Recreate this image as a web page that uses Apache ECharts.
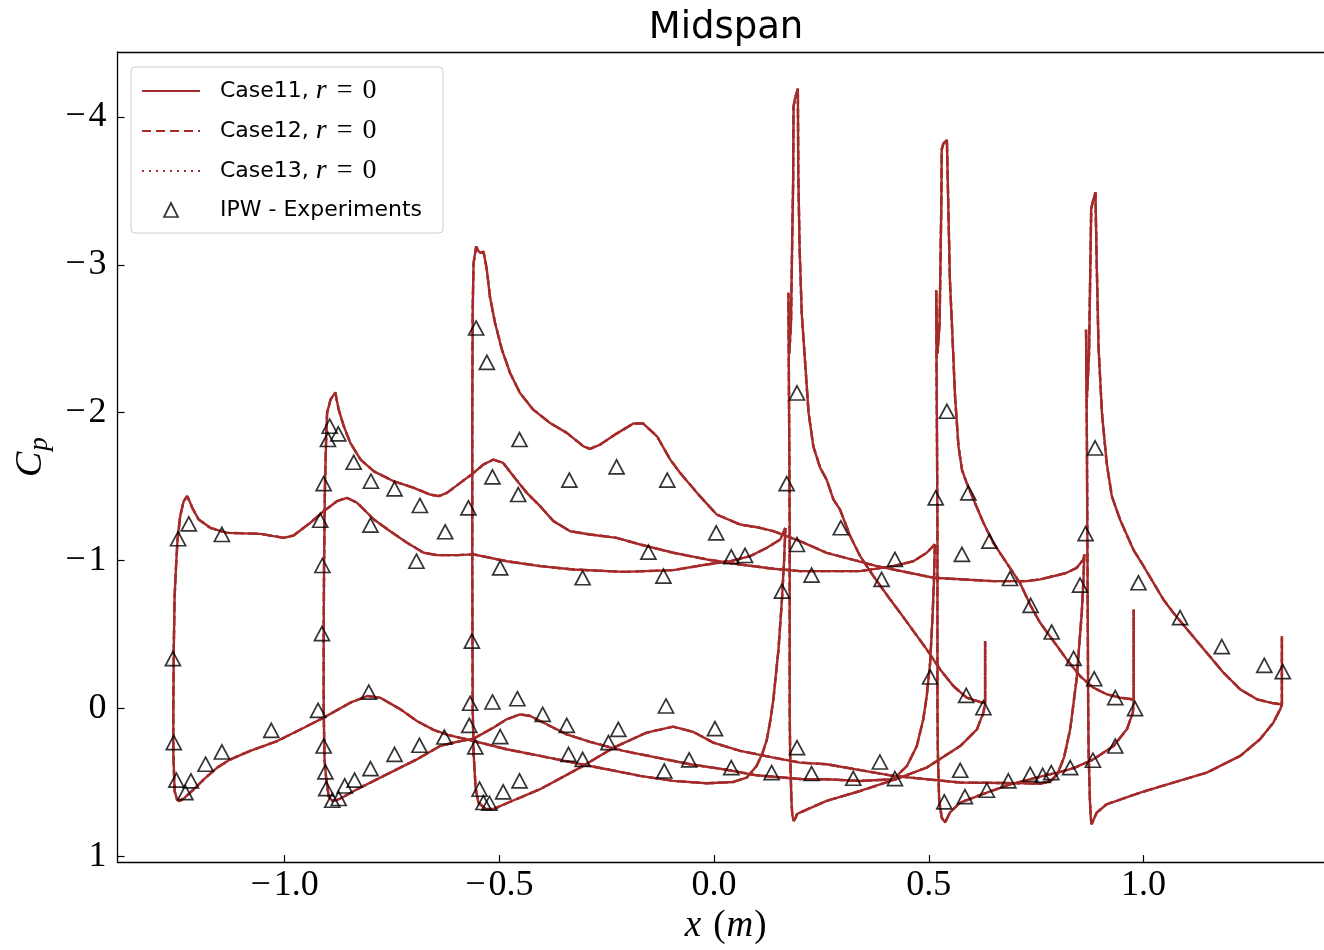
<!DOCTYPE html>
<html><head><meta charset="utf-8">
<script src="https://cdn.jsdelivr.net/npm/echarts@6/dist/echarts.min.js"></script>
<style>html,body{margin:0;padding:0;background:#fff}#chart{width:1324px;height:950px}</style>
</head><body><div id="chart"></div>
<script>
// ---- Data: [x (m), Cp] pairs ----
const wing1Upper = [[-1.250,0.620],[-1.256,0.560],[-1.259,0.300],[-1.259,0.000],[-1.258,-0.400],[-1.256,-0.760],[-1.252,-1.000],[-1.249,-1.150],[-1.243,-1.300],[-1.235,-1.400],[-1.227,-1.435],[-1.221,-1.400],[-1.215,-1.356],[-1.200,-1.277],[-1.173,-1.221],[-1.134,-1.187],[-1.056,-1.180],[-1.002,-1.153],[-0.979,-1.169],[-0.940,-1.255],[-0.909,-1.333],[-0.878,-1.401],[-0.855,-1.424],[-0.831,-1.390],[-0.792,-1.277],[-0.754,-1.198],[-0.715,-1.120],[-0.676,-1.052],[-0.645,-1.036],[-0.598,-1.036],[-0.560,-1.041],[-0.483,-0.995],[-0.405,-0.962],[-0.328,-0.939],[-0.211,-0.923],[-0.095,-0.935],[-0.017,-0.973],[0.037,-0.995],[0.084,-1.029],[0.123,-1.086],[0.154,-1.142],[0.166,-1.220]];
const wing1Lower = [[-1.250,0.620],[-1.244,0.627],[-1.235,0.610],[-1.211,0.547],[-1.188,0.480],[-1.157,0.401],[-1.126,0.345],[-1.080,0.288],[-1.017,0.221],[-0.955,0.131],[-0.909,0.063],[-0.847,-0.038],[-0.808,-0.083],[-0.777,-0.072],[-0.730,0.007],[-0.692,0.086],[-0.653,0.146],[-0.620,0.180],[-0.560,0.221],[-0.483,0.277],[-0.405,0.322],[-0.328,0.367],[-0.250,0.412],[-0.172,0.457],[-0.095,0.491],[-0.017,0.507],[0.045,0.498],[0.076,0.468],[0.099,0.390],[0.113,0.300],[0.123,0.210],[0.131,0.080],[0.138,-0.061],[0.150,-0.400],[0.158,-0.736],[0.163,-1.000],[0.166,-1.220]];

const wing2Upper = [[-0.897,0.600],[-0.903,0.480],[-0.907,0.345],[-0.909,0.000],[-0.909,-0.500],[-0.908,-1.000],[-0.906,-1.500],[-0.903,-1.850],[-0.901,-2.000],[-0.893,-2.088],[-0.882,-2.137],[-0.874,-2.020],[-0.862,-1.907],[-0.847,-1.795],[-0.823,-1.682],[-0.792,-1.603],[-0.746,-1.536],[-0.699,-1.491],[-0.661,-1.446],[-0.641,-1.435],[-0.622,-1.457],[-0.591,-1.525],[-0.560,-1.592],[-0.537,-1.649],[-0.514,-1.682],[-0.491,-1.660],[-0.467,-1.570],[-0.436,-1.457],[-0.405,-1.367],[-0.374,-1.266],[-0.335,-1.198],[-0.289,-1.176],[-0.227,-1.153],[-0.172,-1.108],[-0.095,-1.052],[-0.017,-1.007],[0.061,-0.973],[0.138,-0.944],[0.200,-0.928],[0.340,-0.928],[0.417,-0.962],[0.464,-0.995],[0.495,-1.052],[0.511,-1.097],[0.514,-1.110]];
const wing2Lower = [[-0.897,0.600],[-0.889,0.624],[-0.878,0.620],[-0.870,0.610],[-0.831,0.547],[-0.769,0.457],[-0.692,0.345],[-0.638,0.255],[-0.598,0.226],[-0.560,0.205],[-0.514,0.131],[-0.483,0.074],[-0.452,0.041],[-0.428,0.052],[-0.390,0.108],[-0.343,0.176],[-0.289,0.227],[-0.211,0.288],[-0.133,0.333],[-0.056,0.378],[0.022,0.412],[0.099,0.453],[0.200,0.478],[0.262,0.480],[0.340,0.491],[0.417,0.480],[0.449,0.390],[0.472,0.255],[0.487,0.074],[0.495,-0.083],[0.503,-0.309],[0.509,-0.647],[0.512,-0.872],[0.514,-1.110]];

const wing3Upper = [[-0.556,0.500],[-0.560,0.300],[-0.562,0.000],[-0.563,-1.000],[-0.563,-2.000],[-0.562,-2.700],[-0.560,-3.011],[-0.554,-3.124],[-0.548,-3.090],[-0.543,-3.079],[-0.537,-3.090],[-0.529,-2.966],[-0.522,-2.786],[-0.510,-2.606],[-0.494,-2.426],[-0.475,-2.268],[-0.452,-2.133],[-0.421,-2.020],[-0.382,-1.930],[-0.343,-1.863],[-0.304,-1.772],[-0.289,-1.755],[-0.265,-1.784],[-0.227,-1.858],[-0.188,-1.926],[-0.165,-1.926],[-0.133,-1.840],[-0.102,-1.682],[-0.079,-1.592],[-0.033,-1.435],[0.006,-1.311],[0.061,-1.243],[0.107,-1.221],[0.138,-1.198],[0.200,-1.131],[0.262,-1.052],[0.379,-0.962],[0.511,-0.883],[0.650,-0.860],[0.728,-0.860],[0.759,-0.872],[0.806,-0.905],[0.821,-0.917],[0.844,-0.950],[0.860,-1.007],[0.862,-1.040]];
const wing3Lower = [[-0.556,0.500],[-0.556,0.525],[-0.549,0.637],[-0.533,0.678],[-0.514,0.682],[-0.483,0.642],[-0.405,0.547],[-0.312,0.401],[-0.234,0.266],[-0.157,0.164],[-0.095,0.124],[-0.048,0.160],[-0.002,0.232],[0.061,0.288],[0.138,0.333],[0.200,0.367],[0.262,0.378],[0.417,0.457],[0.573,0.502],[0.728,0.507],[0.759,0.510],[0.785,0.490],[0.800,0.440],[0.815,0.330],[0.829,0.142],[0.844,-0.196],[0.856,-0.646],[0.860,-0.872],[0.862,-1.040]];

const flap1Upper = [[0.180,0.620],[0.177,0.300],[0.176,0.000],[0.176,-0.600],[0.176,-1.200],[0.175,-1.800],[0.174,-2.300],[0.173,-2.810],[0.175,-2.400],[0.179,-2.600],[0.182,-3.200],[0.184,-3.550],[0.185,-4.070],[0.188,-4.120],[0.192,-4.180],[0.195,-4.190],[0.196,-3.620],[0.199,-3.124],[0.204,-2.674],[0.212,-2.336],[0.220,-1.998],[0.231,-1.772],[0.247,-1.626],[0.262,-1.547],[0.278,-1.412],[0.293,-1.345],[0.317,-1.164],[0.340,-1.029],[0.371,-0.894],[0.410,-0.736],[0.433,-0.647],[0.495,-0.399],[0.526,-0.264],[0.557,-0.151],[0.588,-0.072],[0.619,-0.043],[0.631,-0.035],[0.631,-0.455],[0.631,-0.035]];
const flap1Lower = [[0.180,0.620],[0.182,0.720],[0.185,0.761],[0.190,0.740],[0.193,0.715],[0.200,0.705],[0.262,0.626],[0.340,0.559],[0.417,0.486],[0.495,0.401],[0.573,0.255],[0.612,0.142],[0.627,0.029],[0.631,-0.035]];

const flap2Upper = [[0.524,0.620],[0.521,0.300],[0.520,0.000],[0.520,-0.600],[0.520,-1.200],[0.519,-1.800],[0.518,-2.300],[0.517,-2.830],[0.520,-2.400],[0.525,-2.600],[0.527,-3.000],[0.529,-3.400],[0.530,-3.780],[0.534,-3.820],[0.538,-3.845],[0.542,-3.845],[0.546,-3.300],[0.549,-2.900],[0.556,-2.448],[0.561,-2.110],[0.569,-1.772],[0.577,-1.615],[0.588,-1.525],[0.604,-1.412],[0.627,-1.255],[0.650,-1.120],[0.681,-0.984],[0.712,-0.849],[0.736,-0.700],[0.759,-0.579],[0.790,-0.455],[0.821,-0.331],[0.852,-0.218],[0.883,-0.140],[0.914,-0.095],[0.945,-0.072],[0.977,-0.060],[0.977,-0.669],[0.977,-0.060]];
const flap2Lower = [[0.524,0.620],[0.530,0.740],[0.538,0.772],[0.544,0.735],[0.549,0.705],[0.573,0.637],[0.635,0.570],[0.689,0.514],[0.767,0.457],[0.806,0.430],[0.837,0.405],[0.883,0.345],[0.930,0.255],[0.961,0.142],[0.975,0.029],[0.977,-0.060]];

const flap3Upper = [[0.875,0.620],[0.872,0.300],[0.871,0.000],[0.870,-0.600],[0.869,-1.200],[0.868,-1.800],[0.867,-2.200],[0.866,-2.560],[0.868,-2.100],[0.873,-2.400],[0.876,-3.000],[0.878,-3.380],[0.880,-3.450],[0.883,-3.440],[0.885,-3.480],[0.888,-3.490],[0.889,-3.300],[0.891,-2.989],[0.895,-2.448],[0.903,-1.998],[0.914,-1.660],[0.926,-1.435],[0.945,-1.277],[0.976,-1.074],[1.000,-0.961],[1.023,-0.849],[1.046,-0.736],[1.069,-0.647],[1.108,-0.511],[1.147,-0.376],[1.186,-0.241],[1.225,-0.128],[1.264,-0.061],[1.302,-0.034],[1.322,-0.027],[1.322,-0.489],[1.322,-0.027]];
const flap3Lower = [[0.875,0.620],[0.877,0.740],[0.879,0.784],[0.884,0.750],[0.891,0.705],[0.914,0.649],[0.992,0.570],[1.069,0.502],[1.147,0.435],[1.225,0.322],[1.271,0.209],[1.302,0.097],[1.318,0.007],[1.322,-0.027]];

const expPoints = [[-1.260,-0.336],[-1.258,0.232],[-1.252,0.486],[-1.231,0.570],[-1.218,0.491],[-1.184,0.378],[-1.146,0.295],[-1.031,0.149],[-0.804,-0.110],[-1.248,-1.147],[-1.223,-1.248],[-1.146,-1.176],
[-0.912,-0.966],[-0.917,-1.272],[-0.909,-1.520],[-0.899,-1.818],[-0.895,-1.908],[-0.875,-1.856],[-0.839,-1.664],[-0.799,-1.536],[-0.744,-1.484],[-0.685,-1.372],[-0.626,-1.194],[-0.800,-1.239],[-0.693,-0.995],[-0.913,-0.505],[-0.922,0.014],[-0.909,0.255],[-0.905,0.430],[-0.903,0.543],[-0.889,0.622],[-0.874,0.610],[-0.860,0.525],[-0.837,0.486],[-0.800,0.408],[-0.744,0.311],[-0.686,0.250],[-0.628,0.194],
[-0.554,-2.572],[-0.529,-2.340],[-0.453,-1.818],[-0.516,-1.565],[-0.456,-1.446],[-0.572,-1.356],[-0.337,-1.543],[-0.227,-1.633],[-0.109,-1.543],[-0.498,-0.950],[-0.306,-0.883],[-0.118,-0.894],[-0.153,-1.056],[0.005,-1.187],[0.040,-1.025],[0.072,-1.034],
[-0.564,-0.455],[-0.568,-0.034],[-0.570,0.115],[-0.556,0.261],[-0.516,-0.043],[-0.458,-0.065],[-0.498,0.191],[-0.399,0.041],[-0.343,0.115],[-0.339,0.311],[-0.306,0.345],[-0.246,0.232],[-0.223,0.142],[-0.112,-0.016],[-0.116,0.424],[-0.058,0.349],[0.002,0.137],[0.040,0.401],[0.134,0.435],[0.193,0.266],[-0.546,0.547],[-0.537,0.637],[-0.523,0.642],[-0.491,0.565],[-0.453,0.491],
[0.169,-1.520],[0.193,-2.133],[0.193,-1.108],[0.158,-0.793],[0.295,-1.221],[0.227,-0.901],[0.421,-1.007],[0.390,-0.872],[0.503,-0.212],[0.587,-0.088],[0.627,-0.004],[0.227,0.441],[0.324,0.473],[0.386,0.363],[0.421,0.475],
[0.542,-2.009],[0.516,-1.423],[0.592,-1.457],[0.577,-1.041],[0.641,-1.131],[0.689,-0.878],[0.737,-0.696],[0.786,-0.516],[0.837,-0.338],[0.885,-0.200],[0.934,-0.072],[0.980,0.002],[0.573,0.419],[0.536,0.633],[0.584,0.597],[0.635,0.554],[0.685,0.491],[0.736,0.446],[0.765,0.453],[0.785,0.435],[0.829,0.401],[0.882,0.351],[0.934,0.255],
[0.887,-1.761],[0.865,-1.182],[0.852,-0.833],[0.988,-0.849],[1.085,-0.613],[1.182,-0.417],[1.281,-0.291],[1.324,-0.248]];

const xTicks = [-1.0, -0.5, 0.0, 0.5, 1.0];
const yTicks = [-4, -3, -2, -1, 0, 1];
const caseNames = ['Case11, r = 0', 'Case12, r = 0', 'Case13, r = 0'];
const expName = 'IPW - Experiments';
const titleText = 'Midspan';

// ---- Build ----
function loop(upper, lower) { return upper.slice().reverse().concat(lower.slice(1)); }
const elements = [
  loop(wing1Upper, wing1Lower), loop(wing2Upper, wing2Lower), loop(wing3Upper, wing3Lower),
  loop(flap1Upper, flap1Lower), loop(flap2Upper, flap2Lower), loop(flap3Upper, flap3Lower)
];
const lineColor = '#a52a2a';
const lineTypes = ['solid', [9, 5], [2, 5]];
const triPath = 'path://M0,0L1,2L-1,2Z';
const series = [];
caseNames.forEach((name, i) => {
  elements.forEach(el => {
    series.push({
      type: 'line', name: name, data: el, showSymbol: false, symbol: 'none',
      lineStyle: { color: lineColor, width: 2.4, type: lineTypes[i] },
      itemStyle: { color: lineColor }, z: 2, silent: true, animation: false
    });
  });
});
series.push({
  type: 'scatter', name: expName, data: expPoints, symbol: triPath, symbolSize: [15, 14],
  itemStyle: { color: 'rgba(255,255,255,0)', borderColor: '#000', borderWidth: 1.7 },
  z: 3, silent: true, animation: false
});

function fmt(v, d) {
  const s = Math.abs(v).toFixed(d);
  return (v < 0 ? '\u2212\u200A' : '') + s;
}
const serif = 'Liberation Serif';
const axisLineStyle = { color: '#000', width: 1.3 };
const legendData = caseNames.map(n => ({ name: n, itemStyle: { opacity: 0 } }))
  .concat([{ name: expName, icon: triPath, itemStyle: { color: 'rgba(255,255,255,0)', borderColor: '#000', borderWidth: 1.7 } }]);

const chart = echarts.init(document.getElementById('chart'), null, { renderer: 'canvas' });
chart.setOption({
  animation: false,
  backgroundColor: '#fff',
  grid: { left: 117.5, top: 52, right: 0, bottom: 87, containLabel: false },
  graphic: [{
    type: 'text', x: 726, y: 28, silent: true,
    style: { text: titleText, fontSize: 37, fontFamily: 'DejaVu Sans', fill: '#000', align: 'center', verticalAlign: 'middle' }
  }],
  legend: {
    orient: 'vertical', left: 131, top: 67,
    data: legendData,
    itemWidth: 58, itemHeight: 14, itemGap: 12,
    symbolKeepAspect: true,
    padding: [10, 21, 10, 10],
    backgroundColor: 'rgba(255,255,255,0.8)', borderColor: '#cccccc', borderWidth: 1, borderRadius: 4,
    selectedMode: false,
    formatter: name => name.replace('r = 0', '{it|r}{eq|=}{m|0}'),
    textStyle: {
      fontFamily: 'DejaVu Sans', fontSize: 22, color: '#000', lineHeight: 26, padding: [0, 0, 0, 15],
      rich: {
        it: { fontFamily: serif, fontStyle: 'italic', fontSize: 28, lineHeight: 26 },
        eq: { fontFamily: serif, fontSize: 28, lineHeight: 26, padding: [0, 10, 0, 10] },
        m: { fontFamily: serif, fontSize: 28, lineHeight: 26 }
      }
    }
  },
  xAxis: [{
    type: 'value', min: -1.389, max: 1.420, position: 'bottom',
    axisLine: { show: true, onZero: false, lineStyle: axisLineStyle },
    axisTick: { show: true, inside: true, length: 7, customValues: xTicks, lineStyle: { color: '#000', width: 1.2 } },
    axisLabel: { customValues: xTicks, formatter: v => fmt(v, 1), fontFamily: serif, fontSize: 36, color: '#000', margin: 5 },
    splitLine: { show: false },
    name: '{i|x}{lp|(}{i|m}{n|)}', nameLocation: 'middle', nameGap: 44,
    nameTextStyle: {
      color: '#000',
      rich: {
        i: { fontFamily: serif, fontStyle: 'italic', fontSize: 37 },
        lp: { fontFamily: serif, fontSize: 37, padding: [0, 1, 0, 12] },
        n: { fontFamily: serif, fontSize: 37, padding: [0, 0, 0, 1] }
      },
      padding: [0, 0, 0, 10]
    }
  }, {
    type: 'value', min: -1.389, max: 1.420, position: 'top',
    axisLine: { show: true, onZero: false, lineStyle: axisLineStyle },
    axisTick: { show: false }, axisLabel: { show: false }, splitLine: { show: false }
  }],
  yAxis: [{
    type: 'value', inverse: true, min: -4.439, max: 1.04, position: 'left',
    axisLine: { show: true, onZero: false, lineStyle: axisLineStyle },
    axisTick: { show: true, inside: true, length: 7, customValues: yTicks, lineStyle: { color: '#000', width: 1.2 } },
    axisLabel: { customValues: yTicks, formatter: v => fmt(v, 0), fontFamily: serif, fontSize: 36, color: '#000', margin: 11 },
    splitLine: { show: false },
    name: '{c|C}{p|p}', nameLocation: 'middle', nameRotate: 90, nameGap: 64,
    nameTextStyle: {
      color: '#000',
      rich: {
        c: { fontFamily: serif, fontStyle: 'italic', fontSize: 38, lineHeight: 44 },
        p: { fontFamily: serif, fontStyle: 'italic', fontSize: 27, lineHeight: 44, padding: [16, 0, 0, 1] }
      }
    }
  }],
  series: series
});
</script>
</body></html>
